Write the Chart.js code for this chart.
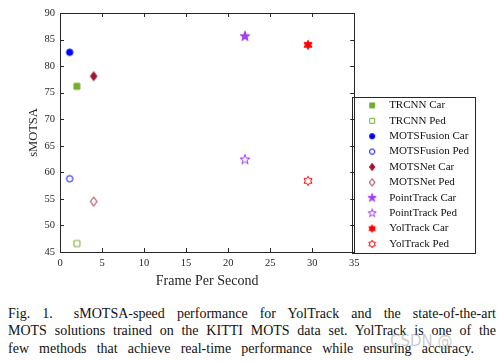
<!DOCTYPE html>
<html>
<head>
<meta charset="utf-8">
<script src="https://cdn.jsdelivr.net/npm/chart.js@4.4.1/dist/chart.umd.min.js"></script>
<style>
  body { margin: 0; background: #fff; }
  #wrap { position: relative; width: 503px; height: 361px; overflow: hidden; }
  #chart { position: absolute; left: 0; top: 0; }
  .caption {
    position: absolute; left: 8px; top: 305px; width: 488px;
    font-family: "Liberation Serif", serif; font-size: 14px; line-height: 17.4px; color: #111;
  }
  .caption div { text-align: justify; text-align-last: justify; white-space: nowrap; }
  .watermark {
    position: absolute; left: 390px; top: 332px;
    font-family: "DejaVu Sans", sans-serif; font-size: 15px; color: rgba(150, 150, 150, 0.5);
  }
</style>
</head>
<body>
<div id="wrap">
  <canvas id="chart" width="503" height="300"></canvas>
  <div class="caption">
    <div><span style="margin-right:9px">Fig. 1.</span> sMOTSA-speed performance for YolTrack and the state-of-the-art</div>
    <div>MOTS solutions trained on the KITTI MOTS data set. YolTrack is one of the</div>
    <div style="width:466px">few methods that achieve real-time performance while ensuring accuracy.</div>
  </div>
  <div class="watermark">CSDN @</div>
</div>
<script>
const methods = ['TRCNN', 'MOTSFusion', 'MOTSNet', 'PointTrack', 'YolTrack'];
const framesPerSecond = [2.0, 1.15, 4.0, 22.0, 29.5];
const carSMOTSA = [76.2, 82.6, 78.1, 85.6, 84.0];
const pedSMOTSA = [46.6, 58.8, 54.5, 62.4, 58.4];
const xTicks = [0, 5, 10, 15, 20, 25, 30, 35];
const yTicks = [45, 50, 55, 60, 65, 70, 75, 80, 85, 90];

const methodColors = ['#77AC30', '#0000FF', '#A2142F', '#A23CF5', '#FF0000'];
const methodShapes = ['square', 'circle', 'diamond', 'pentagram', 'hexagram'];

const AXIS_COLOR = '#262626';
const LEGEND_FONT = 11;
const LEGEND_PAD = 4.4;

// marker drawn on a small canvas so the legend can use it too
function makeMarker(shape, color, filled, k) {
  const c = document.createElement('canvas');
  c.width = c.height = 14;
  const ctx = c.getContext('2d');
  const m = 7;
  ctx.beginPath();
  if (shape === 'square') {
    const h = 3 * k;
    ctx.rect(m - h, m - h, 2 * h, 2 * h);
  } else if (shape === 'circle') {
    ctx.arc(m, m, 3.2 * k, 0, Math.PI * 2);
  } else if (shape === 'diamond') {
    ctx.moveTo(m, m - 4.5 * k);
    ctx.lineTo(m + 3.3 * k, m);
    ctx.lineTo(m, m + 4.5 * k);
    ctx.lineTo(m - 3.3 * k, m);
    ctx.closePath();
  } else {
    const n = shape === 'pentagram' ? 5 : 6;
    const R = (n === 5 ? 5.3 : 4.6) * k;
    const r = R * (n === 5 ? 0.382 : 0.577);
    for (let i = 0; i < 2 * n; i++) {
      const a = -Math.PI / 2 + i * Math.PI / n;
      const rad = i % 2 ? r : R;
      const px = m + rad * Math.cos(a), py = m + rad * Math.sin(a);
      if (i === 0) ctx.moveTo(px, py); else ctx.lineTo(px, py);
    }
    ctx.closePath();
  }
  ctx.lineWidth = 1;
  ctx.strokeStyle = color;
  ctx.fillStyle = color;
  if (filled) ctx.fill();
  ctx.stroke();
  return c;
}

const datasets = [];
const legendMarkers = [];
methods.forEach((name, i) => {
  const col = methodColors[i];
  datasets.push({
    label: name + ' Car',
    data: [{ x: framesPerSecond[i], y: carSMOTSA[i] }],
    pointStyle: makeMarker(methodShapes[i], col, true, 1),
    backgroundColor: col, borderColor: col, pointRadius: 5
  });
  datasets.push({
    label: name + ' Ped',
    data: [{ x: framesPerSecond[i], y: pedSMOTSA[i] }],
    pointStyle: makeMarker(methodShapes[i], col, false, 1),
    backgroundColor: col, borderColor: col, pointRadius: 5
  });
  legendMarkers.push(makeMarker(methodShapes[i], col, true, 0.82));
  legendMarkers.push(makeMarker(methodShapes[i], col, false, 0.82));
});

const axesFrame = {
  id: 'axesFrame',
  afterLayout(chart) {
    // legend sits against the right axis, its last row just above the x axis
    const lg = chart.legend;
    lg.left = chart.chartArea.right + 2;
    lg.right = lg.left + 130;
    lg.top = chart.chartArea.bottom - 8 - 9 * (LEGEND_FONT + LEGEND_PAD) - LEGEND_FONT / 2 - LEGEND_PAD;
  },
  afterDraw(chart) {
    const ctx = chart.ctx;
    const { left, right, top, bottom } = chart.chartArea;
    const xs = chart.scales.x, ys = chart.scales.y;
    ctx.save();
    ctx.strokeStyle = AXIS_COLOR;
    ctx.lineWidth = 1;
    ctx.strokeRect(Math.round(left) + 0.5, Math.round(top) + 0.5, Math.round(right - left), Math.round(bottom - top));
    ctx.beginPath();
    xs.ticks.forEach(t => {
      const px = Math.round(xs.getPixelForValue(t.value)) + 0.5;
      ctx.moveTo(px, bottom); ctx.lineTo(px, bottom - 4);
      ctx.moveTo(px, top); ctx.lineTo(px, top + 4);
    });
    ys.ticks.forEach(t => {
      const py = Math.round(ys.getPixelForValue(t.value)) + 0.5;
      ctx.moveTo(left, py); ctx.lineTo(left + 4, py);
      ctx.moveTo(right, py); ctx.lineTo(right - 4, py);
    });
    ctx.stroke();

    // legend box
    const lg = chart.legend;
    const n = lg.legendItems.length;
    const first = lg.top + LEGEND_PAD + LEGEND_FONT / 2;
    const last = first + (n - 1) * (LEGEND_FONT + LEGEND_PAD);
    const bx = Math.round(right) - 1.5;
    ctx.strokeRect(bx, Math.round(first - 8.5) + 0.5, 123, Math.round(last - first + 17));
    ctx.restore();
  }
};

const tickFont = { family: '"Liberation Serif", serif', size: 10.5 };

new Chart(document.getElementById('chart'), {
  type: 'scatter',
  data: { datasets },
  plugins: [axesFrame],
  options: {
    responsive: false,
    devicePixelRatio: 1,
    animation: false,
    layout: { padding: { left: 22, top: 13, right: 38, bottom: 6 } },
    plugins: {
      tooltip: { enabled: false },
      legend: {
        position: 'right',
        align: 'start',
        labels: {
          usePointStyle: true,
          pointStyleWidth: 23,
          padding: LEGEND_PAD,
          color: '#111',
          font: { family: '"Liberation Serif", serif', size: LEGEND_FONT },
          generateLabels(chart) {
            const items = Chart.defaults.plugins.legend.labels.generateLabels(chart);
            items.forEach((it, i) => { it.pointStyle = legendMarkers[i]; });
            return items;
          }
        }
      }
    },
    scales: {
      x: {
        type: 'linear',
        min: xTicks[0],
        max: xTicks[xTicks.length - 1],
        afterFit(scale) { scale.height = 42; },
        grid: { display: false, drawTicks: false },
        border: { display: false },
        ticks: { stepSize: xTicks[1] - xTicks[0], padding: 5, color: AXIS_COLOR, font: tickFont },
        title: {
          display: true,
          text: 'Frame Per Second',
          color: AXIS_COLOR,
          font: { family: '"Liberation Serif", serif', size: 14 }
        }
      },
      y: {
        type: 'linear',
        min: yTicks[0],
        max: yTicks[yTicks.length - 1],
        afterFit(scale) { scale.width = 38; },
        grid: { display: false, drawTicks: false },
        border: { display: false },
        ticks: { stepSize: yTicks[1] - yTicks[0], padding: 5, color: AXIS_COLOR, font: tickFont },
        title: {
          display: true,
          text: 'sMOTSA',
          color: AXIS_COLOR,
          font: { family: '"Liberation Serif", serif', size: 12.5 }
        }
      }
    }
  }
});
</script>
</body>
</html>
